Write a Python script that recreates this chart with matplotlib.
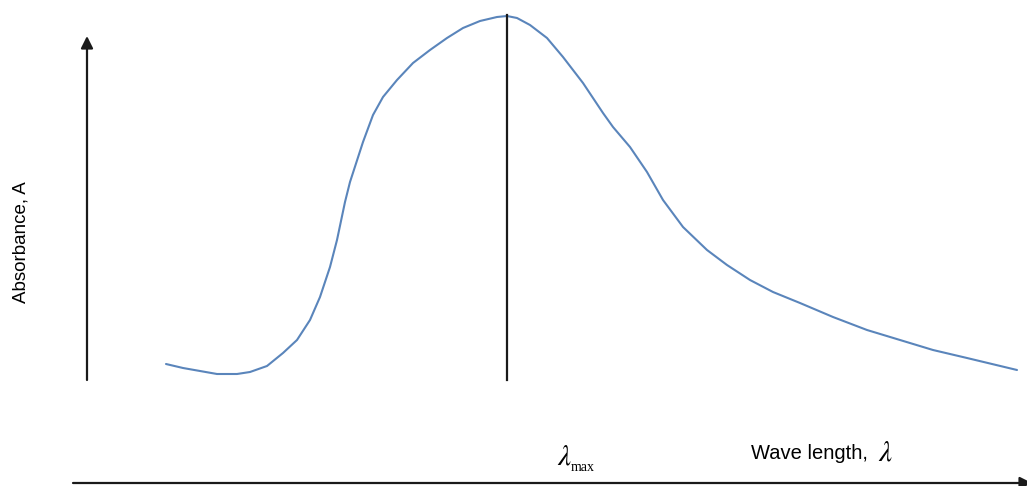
import numpy as np
import matplotlib.pyplot as plt

# ==============================
# Données (unités arbitraires)
# ==============================
wavelength = [166, 183, 200, 217, 237, 250, 267, 283, 297, 310, 320, 330, 337, 345,
              350, 363, 373, 383, 397, 413, 430, 447, 463, 480, 497, 507, 517, 530,
              547, 563, 583, 603, 613, 630, 647, 663, 683, 707, 727, 750, 773, 800,
              833, 867, 900, 933, 967, 1017]
absorbance = [122, 118, 115, 112, 112, 114, 120, 133, 146, 166, 189, 219, 246, 284,
              304, 344, 371, 389, 406, 423, 436, 448, 458, 465, 469, 470, 468, 461,
              448, 429, 403, 373, 359, 339, 314, 286, 259, 236, 221, 206, 194, 183,
              169, 156, 146, 136, 128, 116]
lambda_max = 507
axis_bottom = 106
axis_top = 450
peak_top = 471

plt.rcParams['font.family'] = ['Liberation Sans', 'DejaVu Sans']
plt.rcParams['mathtext.fontset'] = 'stix'

fig = plt.figure(figsize=(10.27, 4.86), dpi=100)
ax = fig.add_axes([0, 0, 1, 1])
ax.set_xlim(0, 1027)
ax.set_ylim(0, 486)
ax.axis('off')

# axe vertical (absorbance)
ax.annotate('', xy=(87, axis_top), xytext=(87, axis_bottom),
            arrowprops=dict(arrowstyle='-|>', color='#1a1a1a', lw=1.6,
                            mutation_scale=18, shrinkA=0, shrinkB=0))
# axe horizontal (longueur d'onde), flèche coupée au bord
ax.annotate('', xy=(1032, 3), xytext=(73, 3),
            arrowprops=dict(arrowstyle='-|>', color='#1a1a1a', lw=1.6,
                            mutation_scale=18, shrinkA=0, shrinkB=0),
            annotation_clip=False)

# courbe d'absorbance
ax.plot(wavelength, absorbance, color='#5a85bb', lw=1.5,
        solid_capstyle='round', solid_joinstyle='round')

# ligne lambda max
ax.plot([lambda_max, lambda_max], [axis_bottom, peak_top], color='#1a1a1a', lw=1.6)

# textes
ax.text(21, 244, 'Absorbance, A', rotation=90, ha='center', va='center', fontsize=13.5)
ax.text(868, 33, 'Wave length,', ha='right', va='center', fontsize=14.5)
ax.text(878, 34, r'$\lambda$', ha='left', va='center', fontsize=21)
ax.text(557, 30, r'$\lambda$', ha='left', va='center', fontsize=21)
ax.text(571, 19, 'max', ha='left', va='center', fontsize=10,
        family='Liberation Serif')

fig.savefig('out.png', dpi=100)
